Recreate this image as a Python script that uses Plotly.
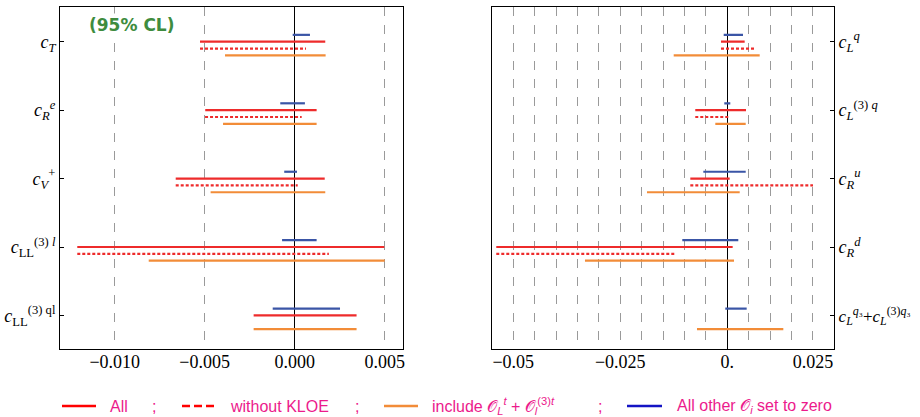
import plotly.graph_objects as go

# ---------------- data ----------------
left_labels = [
    "<i>c</i><sub><i>T</i></sub>",
    "<i>c</i><sub><i>R</i></sub><sup><i>e</i></sup>",
    "<i>c</i><sub><i>V</i></sub><sup>+</sup>",
    "<i>c</i><sub>LL</sub><sup>(3) <i>l</i></sup>",
    "<i>c</i><sub>LL</sub><sup>(3) ql</sup>",
]
right_labels = [
    "<i>c</i><sub><i>L</i></sub><sup><i>q</i></sup>",
    "<i>c</i><sub><i>L</i></sub><sup>(3) <i>q</i></sup>",
    "<i>c</i><sub><i>R</i></sub><sup><i>u</i></sup>",
    "<i>c</i><sub><i>R</i></sub><sup><i>d</i></sup>",
    "<span style=\"font-size:17px\"><i>c</i><sub><i>L</i></sub><sup><i>q</i>₃</sup>+<i>c</i><sub><i>L</i></sub><sup>(3)<i>q</i>₃</sup></span>",
]

# intervals (low, high) per coefficient, None = not shown
left_other_zero = [(-0.00011, 0.00085), (-0.0008, 0.00057), (-0.00058, 0.00013), (-0.0007, 0.00122), (-0.00122, 0.00252)]
left_all = [(-0.00526, 0.0017), (-0.00497, 0.00122), (-0.00661, 0.00167), (-0.01208, 0.00498), (-0.00228, 0.00344)]
left_no_kloe = [(-0.00526, 0.00063), (-0.00498, 0.00039), (-0.00661, 0.00017), (-0.01208, 0.0019), None]
left_top = [(-0.00387, 0.00172), (-0.00398, 0.00122), (-0.00467, 0.0017), (-0.00811, 0.005), (-0.00228, 0.00344)]

right_other_zero = [(-0.00084, 0.00367), (-0.0007, 0.0007), (-0.0056, 0.0043), (-0.01051, 0.00257), (-0.00047, 0.00453)]
right_all = [(-0.00147, 0.00406), (-0.00748, 0.00437), (-0.00864, 0.00056), (-0.05397, 0.00126), None]
right_no_kloe = [(-0.00147, 0.00663), (-0.00748, 0.00056), (-0.00864, 0.02002), (-0.05397, -0.01199), None]
right_top = [(-0.01252, 0.00757), (-0.0028, 0.0043), (-0.01876, 0.0029), (-0.03325, 0.00157), (-0.00708, 0.01309)]

left_tickvals = [-0.010, -0.005, 0.0, 0.005]
left_ticktext = ["−0.010", "−0.005", "0.000", "0.005"]
right_tickvals = [-0.05, -0.025, 0.0, 0.02]
right_ticktext = ["−0.05", "−0.025", "0.", "0.025"]

# ---------------- style ----------------
C_RED = "#EE2B2B"
C_ORANGE = "#F28C38"
C_BLUE = "#3A55A6"
LEG_RED = "#FF0000"
LEG_NAVY = "#1414C4"
TXT_PINK = "#EC1A8C"
GREEN = "#3E8C3E"
LW = 2.2

series = [
    ("other", -0.1, C_BLUE, "solid"),
    ("all", 0.0, C_RED, "solid"),
    ("nokloe", 0.1, C_RED, "3px,2px"),
    ("top", 0.2, C_ORANGE, "solid"),
]

fig = go.Figure()


def add_series(data, offset, color, dash, xa, ya):
    xs, ys = [], []
    for i, iv in enumerate(data):
        if iv is None:
            continue
        xs += [iv[0], iv[1], None]
        ys += [i + offset, i + offset, None]
    fig.add_trace(go.Scatter(x=xs, y=ys, mode="lines", xaxis=xa, yaxis=ya,
                             line=dict(color=color, width=LW, dash=dash),
                             showlegend=False, hoverinfo="skip"))


left_sets = {"other": left_other_zero, "all": left_all, "nokloe": left_no_kloe, "top": left_top}
right_sets = {"other": right_other_zero, "all": right_all, "nokloe": right_no_kloe, "top": right_top}
for key, off, col, dash in series:
    add_series(left_sets[key], off, col, dash, "x", "y")
    add_series(right_sets[key], off, col, dash, "x2", "y2")

W, H = 920, 417
top_px, bot_px = 7, 349
tick_font = dict(family="Liberation Serif", size=18, color="black")
label_font = dict(family="Liberation Serif", size=18, color="black")

common_x = dict(showline=True, linecolor="black", linewidth=1, mirror=True, ticks="",
                showgrid=True, gridcolor="#9a9a9a", gridwidth=1, griddash="dash",
                zeroline=True, zerolinecolor="black", zerolinewidth=1,
                tickfont=tick_font, tickmode="array", automargin=False,
                ticklabelstandoff=-4)
common_y = dict(showline=True, linecolor="black", linewidth=1, mirror=True,
                ticks="inside", ticklen=4, tickcolor="black", showgrid=False, zeroline=False,
                tickmode="array", tickvals=[0, 1, 2, 3, 4], autorange=False,
                range=[4.49, -0.507], tickfont=label_font, automargin=False)

fig.update_layout(
    width=W, height=H,
    margin=dict(l=0, r=0, t=top_px, b=H - bot_px, autoexpand=False),
    plot_bgcolor="white", paper_bgcolor="white",
    xaxis=dict(domain=[60 / W, 403 / W], range=[-0.01304, 0.00602],
               tickvals=left_tickvals, ticktext=left_ticktext, **common_x),
    yaxis=dict(anchor="x", ticktext=left_labels, side="left", **common_y),
    xaxis2=dict(domain=[492.3 / W, 834 / W], range=[-0.0549, 0.02493], anchor="y2",
                tickvals=right_tickvals, ticktext=right_ticktext,
                minor=dict(tickmode="linear", tick0=0, dtick=0.005, showgrid=True,
                           gridcolor="#9a9a9a", gridwidth=1, griddash="dash", ticks=""),
                **common_x),
    yaxis2=dict(anchor="x2", ticktext=right_labels, side="right", **common_y),
    showlegend=False,
)

# "(95% CL)" label
fig.add_annotation(x=131 / W, y=(bot_px - 25) / (bot_px - top_px), xref="paper", yref="paper",
                   xanchor="center", yanchor="middle",
                   text="<b>(95% CL)</b>", showarrow=False, bgcolor="white",
                   font=dict(family="DejaVu Sans", size=17, color=GREEN))

# manual legend row
leg_y = (bot_px - 406) / (bot_px - top_px)
leg_font = dict(family="Liberation Sans", size=16, color=TXT_PINK)
legend_items = [
    (62, 96, LEG_RED, "solid", 108, "All"),
    (182, 214, LEG_RED, "8px,4px", 228, "without KLOE"),
    (384, 418, C_ORANGE, "solid", 430, "include 𝒪<sub><i>L</i></sub><sup><i>t</i></sup> + 𝒪<sub><i>l</i></sub><sup>(3)<i>t</i></sup>"),
    (627, 662, LEG_NAVY, "solid", 675, "All other 𝒪<sub><i>i</i></sub> set to zero"),
]
for x0, x1, col, dash, tx, txt in legend_items:
    fig.add_shape(type="line", xref="paper", yref="paper", x0=x0 / W, x1=x1 / W,
                  y0=leg_y, y1=leg_y, line=dict(color=col, width=2.6, dash=dash))
    fig.add_annotation(x=tx / W, y=leg_y, xref="paper", yref="paper", text=txt,
                       showarrow=False, xanchor="left", yanchor="middle", font=leg_font)
for sx in [154, 357, 600]:
    fig.add_annotation(x=sx / W, y=leg_y, xref="paper", yref="paper", text=";",
                       showarrow=False, xanchor="center", yanchor="middle", font=leg_font)

fig.write_html("out.html", config={"displayModeBar": False},
               post_script="document.body.style.margin='0';")
